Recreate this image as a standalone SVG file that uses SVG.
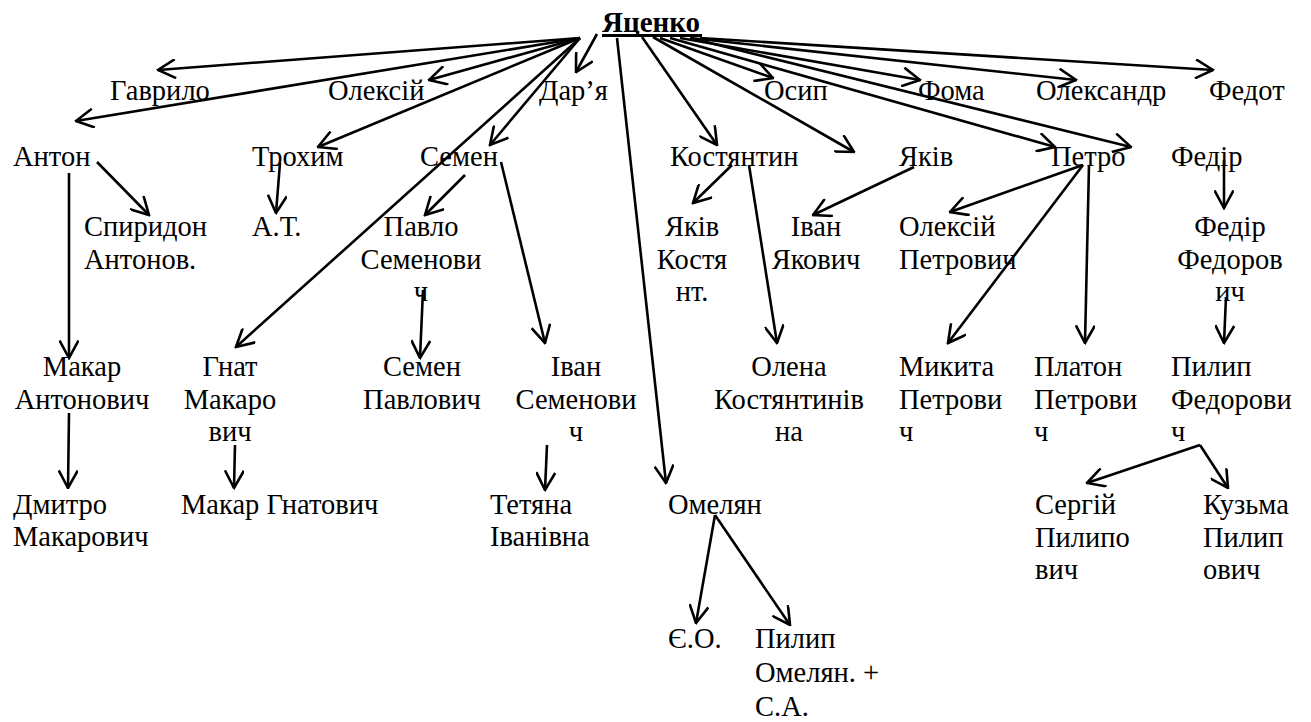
<svg xmlns="http://www.w3.org/2000/svg" width="1311" height="722" viewBox="0 0 1311 722">
<style>
text{font-family:"Liberation Serif","Times New Roman",serif;font-size:28.5px;fill:#000}
.m{text-anchor:middle}
.b{font-weight:bold;font-size:29px}
#edges line{stroke:#000;stroke-width:2.6;fill:none;marker-end:url(#ah)}
</style>
<defs>
<marker id="ah" markerUnits="userSpaceOnUse" viewBox="0 0 20 20" refX="18.5" refY="10" markerWidth="20" markerHeight="20" orient="auto">
<path d="M1,0.5 L18.5,10 L1,19.5" fill="none" stroke="#000" stroke-width="2.6"/>
</marker>
</defs>
<rect width="1311" height="722" fill="#fff"/>
<g id="edges">
<line x1="580" y1="38" x2="158" y2="70"/>
<line x1="580" y1="38" x2="76" y2="121"/>
<line x1="580" y1="38" x2="429" y2="80"/>
<line x1="597" y1="34" x2="576" y2="72"/>
<line x1="580" y1="38" x2="318" y2="147"/>
<line x1="580" y1="38" x2="490" y2="145"/>
<line x1="580" y1="38" x2="236" y2="347"/>
<line x1="617" y1="38" x2="666" y2="483"/>
<line x1="642" y1="37" x2="717" y2="145"/>
<line x1="653" y1="37" x2="854" y2="152"/>
<line x1="660" y1="38" x2="773" y2="78"/>
<line x1="680" y1="38" x2="920" y2="80"/>
<line x1="690" y1="38" x2="1076" y2="80"/>
<line x1="700" y1="38" x2="1213" y2="70"/>
<line x1="670" y1="38" x2="1055" y2="147"/>
<line x1="690" y1="38" x2="1131" y2="147"/>
<line x1="97" y1="162" x2="149" y2="215"/>
<line x1="69" y1="173" x2="69" y2="358"/>
<line x1="280" y1="163" x2="276" y2="213"/>
<line x1="465" y1="175" x2="425" y2="215"/>
<line x1="501" y1="162" x2="545" y2="343"/>
<line x1="423" y1="290" x2="420" y2="358"/>
<line x1="732" y1="165" x2="693" y2="203"/>
<line x1="749" y1="165" x2="777" y2="343"/>
<line x1="914" y1="167" x2="813" y2="215"/>
<line x1="1083" y1="165" x2="950" y2="212"/>
<line x1="1083" y1="165" x2="948" y2="343"/>
<line x1="1089" y1="165" x2="1085" y2="343"/>
<line x1="1224" y1="160" x2="1224" y2="208"/>
<line x1="1226" y1="297" x2="1224" y2="343"/>
<line x1="1200" y1="445" x2="1087" y2="483"/>
<line x1="1200" y1="445" x2="1228" y2="488"/>
<line x1="715" y1="515" x2="696" y2="623"/>
<line x1="715" y1="515" x2="790" y2="625"/>
<line x1="69" y1="413" x2="68" y2="488"/>
<line x1="235" y1="445" x2="234" y2="488"/>
<line x1="547" y1="445" x2="545" y2="490"/>
</g>
<g id="n-yatsenko"><text class="b" x="602" y="32">Яценко</text><line x1="602" y1="35.5" x2="702" y2="35.5" stroke="#000" stroke-width="3"/></g>
<g id="n-gavrylo"><text x="110" y="100">Гаврило</text></g>
<g id="n-oleksii"><text x="328" y="100">Олексій</text></g>
<g id="n-daria"><text x="539" y="100">Дар’я</text></g>
<g id="n-osyp"><text x="764" y="100">Осип</text></g>
<g id="n-foma"><text x="918" y="100">Фома</text></g>
<g id="n-oleksandr"><text x="1036" y="100">Олександр</text></g>
<g id="n-fedot"><text x="1209" y="100">Федот</text></g>
<g id="n-anton"><text x="13" y="166">Антон</text></g>
<g id="n-trokhym"><text x="252" y="166">Трохим</text></g>
<g id="n-semen"><text x="420" y="166">Семен</text></g>
<g id="n-kostiantyn"><text x="670" y="166">Костянтин</text></g>
<g id="n-yakiv"><text x="899" y="166">Яків</text></g>
<g id="n-petro"><text x="1051" y="166">Петро</text></g>
<g id="n-fedir"><text x="1171" y="166">Федір</text></g>
<g id="n-spyrydon"><text x="84" y="236"><tspan x="84">Спиридон</tspan><tspan x="84" y="268.5">Антонов.</tspan></text></g>
<g id="n-at"><text x="252" y="236">А.Т.</text></g>
<g id="n-pavlo"><text class="m" x="421" y="236"><tspan x="421">Павло</tspan><tspan x="421" y="268.5">Семенови</tspan><tspan x="421" y="301">ч</tspan></text></g>
<g id="n-yakiv-k"><text class="m" x="692" y="236"><tspan x="692">Яків</tspan><tspan x="692" y="268.5">Костя</tspan><tspan x="692" y="301">нт.</tspan></text></g>
<g id="n-ivan-ya"><text class="m" x="816" y="236"><tspan x="816">Іван</tspan><tspan x="816" y="268.5">Якович</tspan></text></g>
<g id="n-oleksii-p"><text x="899" y="236"><tspan x="899">Олексій</tspan><tspan x="899" y="268.5">Петрович</tspan></text></g>
<g id="n-fedir-f"><text class="m" x="1230" y="236"><tspan x="1230">Федір</tspan><tspan x="1230" y="268.5">Федоров</tspan><tspan x="1230" y="301">ич</tspan></text></g>
<g id="n-makar-a"><text class="m" x="82" y="376"><tspan x="82">Макар</tspan><tspan x="82" y="408.5">Антонович</tspan></text></g>
<g id="n-hnat"><text class="m" x="230" y="376"><tspan x="230">Гнат</tspan><tspan x="230" y="408.5">Макаро</tspan><tspan x="230" y="441">вич</tspan></text></g>
<g id="n-semen-p"><text class="m" x="422" y="376"><tspan x="422">Семен</tspan><tspan x="422" y="408.5">Павлович</tspan></text></g>
<g id="n-ivan-s"><text class="m" x="576" y="376"><tspan x="576">Іван</tspan><tspan x="576" y="408.5">Семенови</tspan><tspan x="576" y="441">ч</tspan></text></g>
<g id="n-olena"><text class="m" x="789" y="376"><tspan x="789">Олена</tspan><tspan x="789" y="408.5">Костянтинів</tspan><tspan x="789" y="441">на</tspan></text></g>
<g id="n-mykyta"><text x="899" y="376"><tspan x="899">Микита</tspan><tspan x="899" y="408.5">Петрови</tspan><tspan x="899" y="441">ч</tspan></text></g>
<g id="n-platon"><text x="1034" y="376"><tspan x="1034">Платон</tspan><tspan x="1034" y="408.5">Петрови</tspan><tspan x="1034" y="441">ч</tspan></text></g>
<g id="n-pylyp-f"><text x="1171" y="376"><tspan x="1171">Пилип</tspan><tspan x="1171" y="408.5">Федорови</tspan><tspan x="1171" y="441">ч</tspan></text></g>
<g id="n-dmytro"><text x="13" y="514"><tspan x="13">Дмитро</tspan><tspan x="13" y="545.5">Макарович</tspan></text></g>
<g id="n-makar-h"><text x="181" y="514">Макар Гнатович</text></g>
<g id="n-tetiana"><text x="490" y="514"><tspan x="490">Тетяна</tspan><tspan x="490" y="545.5">Іванівна</tspan></text></g>
<g id="n-omelian"><text x="668" y="514">Омелян</text></g>
<g id="n-serhii"><text x="1035" y="514"><tspan x="1035">Сергій</tspan><tspan x="1035" y="546.5">Пилипо</tspan><tspan x="1035" y="579">вич</tspan></text></g>
<g id="n-kuzma"><text x="1203" y="514"><tspan x="1203">Кузьма</tspan><tspan x="1203" y="546.5">Пилип</tspan><tspan x="1203" y="579">ович</tspan></text></g>
<g id="n-yeo"><text x="668" y="648">Є.О.</text></g>
<g id="n-pylyp-o"><text x="755" y="648"><tspan x="755">Пилип</tspan><tspan x="755" y="682">Омелян. +</tspan><tspan x="755" y="716">С.А.</tspan></text></g>
</svg>
